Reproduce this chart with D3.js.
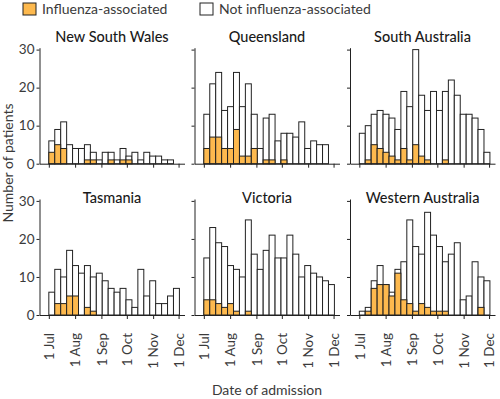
<!DOCTYPE html>
<html>
<head>
<meta charset="utf-8">
<script src="https://cdn.jsdelivr.net/npm/d3@7"></script>
<style>
  body { margin: 0; background: #fff; }
  text { font-family: Lato, "Noto Sans", sans-serif; }
</style>
</head>
<body>
<svg id="chart" width="500" height="399"></svg>
<script>
// weekly admission bins (week starting)
const weeks = ["2019-07-01", "2019-07-08", "2019-07-15", "2019-07-22", "2019-07-29", "2019-08-05",
  "2019-08-12", "2019-08-19", "2019-08-26", "2019-09-02", "2019-09-09", "2019-09-16", "2019-09-23",
  "2019-09-30", "2019-10-07", "2019-10-14", "2019-10-21", "2019-10-28", "2019-11-04", "2019-11-11",
  "2019-11-18", "2019-11-25"];
const tickDates = ["2019-07-01", "2019-08-01", "2019-09-01", "2019-10-01", "2019-11-01", "2019-12-01"];
const yTicks = [0, 10, 20, 30];

const states = ["New South Wales", "Queensland", "South Australia", "Tasmania", "Victoria", "Western Australia"];

// all patients per week, and the influenza-associated part of them
const nswTotal = [6, 9, 11, 5, 4, 4, 5, 3, 1, 3, 3, 1, 4, 2, 3, 1, 3, 2, 2, 1, 1];
const nswFlu   = [3, 5, 4, 0, 0, 0, 1, 1, 0, 0, 1, 0, 1, 1, 0, 0, 0, 0, 0, 0, 0];
const qldTotal = [13, 21, 24, 14, 15, 24, 15, 21, 13, 4, 12, 13, 6, 8, 8, 7, 11, 4, 6, 5, 5];
const qldFlu   = [4, 7, 7, 4, 4, 9, 2, 2, 4, 0, 1, 1, 0, 1, 0, 0, 0, 0, 0, 0, 0];
const saTotal  = [8, 10, 13, 14, 13, 12, 9, 19, 15, 30, 18, 14, 19, 14, 19, 22, 18, 13, 13, 12, 9, 3];
const saFlu    = [0, 1, 5, 4, 3, 2, 1, 4, 1, 5, 2, 1, 0, 0, 1, 0, 0, 0, 0, 0, 0, 0];
const tasTotal = [6, 12, 10, 17, 13, 11, 13, 10, 11, 9, 7, 6, 7, 4, 2, 12, 5, 9, 3, 3, 5, 7];
const tasFlu   = [0, 3, 3, 5, 5, 0, 2, 1, 0, 0, 0, 0, 0, 0, 0, 0, 0, 0, 0, 0, 0, 0];
const vicTotal = [15, 23, 19, 18, 13, 12, 10, 25, 16, 12, 17, 21, 15, 15, 21, 16, 10, 13, 11, 10, 9, 8];
const vicFlu   = [4, 4, 3, 2, 3, 1, 0, 1, 0, 0, 0, 0, 0, 0, 0, 0, 0, 0, 0, 0, 0, 0];
const waTotal  = [1, 2, 9, 13, 8, 6, 12, 14, 25, 18, 16, 27, 21, 18, 14, 16, 19, 4, 5, 14, 10, 9];
const waFlu    = [0, 1, 7, 8, 8, 5, 11, 4, 3, 1, 3, 2, 1, 1, 1, 0, 0, 0, 0, 0, 2, 0];

const totals = [nswTotal, qldTotal, saTotal, tasTotal, vicTotal, waTotal];
const flus = [nswFlu, qldFlu, saFlu, tasFlu, vicFlu, waFlu];

const fluColor = "#fdb94e";
const textColor = "#3a3a3a";
const lineColor = "#222";

const svg = d3.select("#chart");
const parse = d3.utcParse("%Y-%m-%d");
const fmt = d3.utcFormat("%-d %b");

const panelW = 145, panelH = 116;
const colX = [39.5, 194.5, 350];
const rowY = [47.7, 199];

const x = d3.scaleUtc()
  .domain([parse("2019-06-20"), parse("2019-12-08")])
  .range([0, panelW]);
const y = d3.scaleLinear().domain([0, 30.5]).range([panelH, 0]);

states.forEach(function(name, i) {
  var col = i % 3, row = Math.floor(i / 3);
  var g = svg.append("g")
    .attr("transform", "translate(" + colX[col] + "," + rowY[row] + ")");

  var data = totals[i].map(function(t, k) {
    var start = parse(weeks[k]);
    return { start: start, end: d3.utcDay.offset(start, 7), flu: flus[i][k], total: t };
  });

  // whole bar first (not influenza-associated shows as white), influenza part on top of it
  g.selectAll("rect.all")
    .data(data.filter(function(d) { return d.total > 0; }))
    .join("rect")
    .attr("class", "all")
    .attr("x", function(d) { return x(d.start); })
    .attr("width", function(d) { return x(d.end) - x(d.start); })
    .attr("y", function(d) { return y(d.total); })
    .attr("height", function(d) { return y(0) - y(d.total); })
    .attr("fill", "#fff")
    .attr("stroke", lineColor)
    .attr("stroke-width", 1);

  g.selectAll("rect.flu")
    .data(data.filter(function(d) { return d.flu > 0; }))
    .join("rect")
    .attr("class", "flu")
    .attr("x", function(d) { return x(d.start); })
    .attr("width", function(d) { return x(d.end) - x(d.start); })
    .attr("y", function(d) { return y(d.flu); })
    .attr("height", function(d) { return y(0) - y(d.flu); })
    .attr("fill", fluColor)
    .attr("stroke", lineColor)
    .attr("stroke-width", 1);

  var yAxis = g.append("g")
    .call(d3.axisLeft(y).tickValues(yTicks).tickSize(3).tickSizeOuter(0).tickPadding(2)
      .tickFormat(col === 0 ? d3.format("d") : function() { return ""; }));

  var xAxis = g.append("g")
    .attr("transform", "translate(0," + panelH + ")")
    .call(d3.axisBottom(x).tickValues(tickDates.map(parse)).tickSize(4).tickSizeOuter(0)
      .tickFormat(row === 1 ? fmt : function() { return ""; }));

  [yAxis, xAxis].forEach(function(a) {
    a.select(".domain").attr("stroke", lineColor);
    a.selectAll(".tick line").attr("stroke", lineColor);
    a.selectAll("text").attr("fill", textColor).style("font-size", "13.5px");
  });

  if (row === 1) {
    xAxis.selectAll(".tick text")
      .attr("x", -18)
      .attr("y", 0)
      .attr("dy", "0.35em")
      .attr("transform", "rotate(-90)")
      .style("text-anchor", "end");
  }

  g.append("text")
    .attr("x", panelW / 2)
    .attr("y", row === 0 ? -5.5 : 4)
    .attr("text-anchor", "middle")
    .attr("fill", "#1a1a1a")
    .style("font-size", "14.5px")
    .style("font-weight", "500")
    .text(name);
});

// legend
var legend = [
  { label: "Influenza-associated", fill: fluColor, x: 23 },
  { label: "Not influenza-associated", fill: "#fff", x: 200 }
];
var lg = svg.append("g").selectAll("g").data(legend).join("g")
  .attr("transform", function(d) { return "translate(" + d.x + ",3)"; });
lg.append("rect")
  .attr("width", 13).attr("height", 12)
  .attr("fill", function(d) { return d.fill; })
  .attr("stroke", lineColor);
lg.append("text")
  .attr("x", 19).attr("y", 11)
  .attr("fill", textColor)
  .style("font-size", "14px")
  .text(function(d) { return d.label; });

// axis titles
svg.append("text")
  .attr("transform", "translate(13,163) rotate(-90)")
  .attr("text-anchor", "middle")
  .attr("fill", textColor)
  .style("font-size", "14px")
  .text("Number of patients");

svg.append("text")
  .attr("x", 267).attr("y", 395)
  .attr("text-anchor", "middle")
  .attr("fill", textColor)
  .style("font-size", "14px")
  .text("Date of admission");
</script>
</body>
</html>
